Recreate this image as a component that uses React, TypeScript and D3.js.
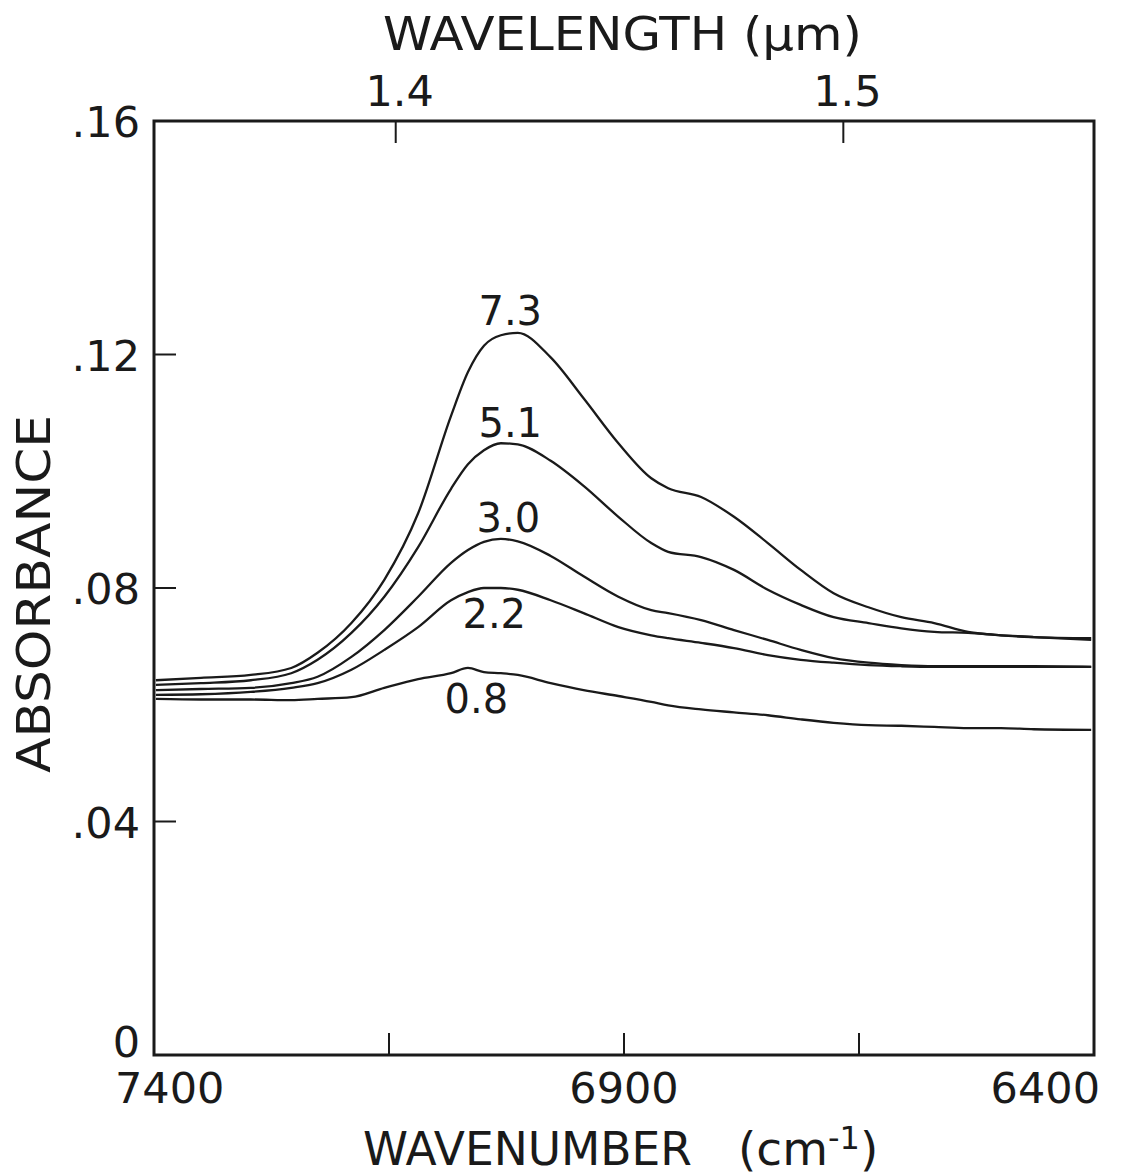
import React from "react";
import * as d3 from "d3";

// wavenumber grid (cm^-1)
const wavenumbers = [7398, 7350, 7297, 7254, 7226, 7190, 7155, 7119, 7084, 7066, 7049, 7031, 7013, 6978, 6943, 6906, 6871, 6853, 6818, 6783, 6747, 6712, 6677, 6640, 6605, 6570, 6534, 6499, 6464, 6403];

const series73 = [0.0642, 0.0646, 0.0651, 0.0663, 0.0689, 0.0740, 0.0814, 0.0928, 0.1095, 0.1170, 0.1215, 0.1233, 0.1237, 0.1195, 0.1125, 0.1048, 0.0988, 0.0971, 0.0956, 0.0922, 0.0877, 0.0831, 0.0791, 0.0767, 0.0750, 0.0740, 0.0725, 0.0719, 0.0716, 0.0714];
const series51 = [0.0634, 0.0637, 0.0642, 0.0654, 0.0677, 0.0723, 0.0785, 0.0870, 0.0970, 0.1012, 0.1036, 0.1048, 0.1046, 0.1018, 0.0975, 0.0922, 0.0877, 0.0862, 0.0853, 0.0831, 0.0797, 0.0771, 0.0750, 0.0740, 0.0731, 0.0725, 0.0723, 0.0719, 0.0716, 0.0711];
const series30 = [0.0625, 0.0627, 0.0629, 0.0637, 0.0648, 0.0682, 0.0728, 0.0785, 0.0843, 0.0865, 0.0879, 0.0884, 0.0880, 0.0855, 0.0820, 0.0785, 0.0762, 0.0757, 0.0745, 0.0728, 0.0711, 0.0694, 0.0680, 0.0672, 0.0668, 0.0666, 0.0666, 0.0666, 0.0666, 0.0665];
const series22 = [0.0617, 0.0618, 0.0622, 0.0629, 0.0637, 0.0660, 0.0694, 0.0733, 0.0779, 0.0793, 0.0800, 0.0800, 0.0797, 0.0779, 0.0757, 0.0733, 0.0719, 0.0714, 0.0706, 0.0697, 0.0685, 0.0677, 0.0672, 0.0668, 0.0666, 0.0665, 0.0665, 0.0665, 0.0665, 0.0665];
const series08 = [0.0610, 0.0609, 0.0609, 0.0608, 0.0610, 0.0613, 0.0629, 0.0644, 0.0654, 0.0663, 0.0656, 0.0654, 0.0651, 0.0637, 0.0625, 0.0615, 0.0605, 0.0599, 0.0592, 0.0587, 0.0582, 0.0575, 0.0569, 0.0565, 0.0564, 0.0562, 0.0560, 0.0560, 0.0558, 0.0557];

const seriesList = [series73, series51, series30, series22, series08];
const curveLabels = ["7.3", "5.1", "3.0", "2.2", "0.8"];
// label anchor: wavenumber and absorbance of label baseline
const labelWavenumbers = [7021, 7021, 7023, 7038, 7057];
const labelAbsorbance = [0.1251, 0.1059, 0.0896, 0.0732, 0.0586];

const yTicks = [0, 0.04, 0.08, 0.12, 0.16];
const yTickLabels = ["0", ".04", ".08", ".12", ".16"];
const xTicks = [7400, 7150, 6900, 6650, 6400];
const xTickLabels = ["7400", "", "6900", "", "6400"];
const wlTicks = [1.4, 1.5];
const wlTickLabels = ["1.4", "1.5"];

const W = 1126;
const H = 1176;
const left = 154, right = 1094, top = 121, bottom = 1055;
const FONT = "'DejaVu Sans', sans-serif";

export default function App() {
  const x = d3.scaleLinear().domain([7400, 6400]).range([left, right]);
  const y = d3.scaleLinear().domain([0, 0.16]).range([bottom, top]);
  const line = d3
    .line<number>()
    .x((_, i) => x(wavenumbers[i]))
    .y((d) => y(d))
    .curve(d3.curveMonotoneX);
  const tickLen = 22;

  return (
    <svg width={W} height={H} style={{ position: "absolute", left: 0, top: 0, background: "#fff" }}>
      <rect x={0} y={0} width={W} height={H} fill="#fff" />
      {/* curves */}
      {seriesList.map((s, i) => (
        <path key={i} d={line(s) || ""} fill="none" stroke="#1a1a1a" strokeWidth={2.3} />
      ))}
      {/* frame */}
      <rect x={left} y={top} width={right - left} height={bottom - top} fill="none" stroke="#1a1a1a" strokeWidth={3} />
      {/* y ticks */}
      {yTicks.map((t, i) => (
        <g key={"y" + i}>
          {t > 0 && t < 0.16 && (
            <line x1={left} x2={left + tickLen} y1={y(t)} y2={y(t)} stroke="#1a1a1a" strokeWidth={2} />
          )}
          <text
            x={140}
            y={t === 0 ? y(t) + 2 : y(t) + 16}
            textAnchor="end"
            fontFamily={FONT}
            fontSize={43}
            fill="#1a1a1a"
          >
            {yTickLabels[i]}
          </text>
        </g>
      ))}
      {/* x ticks bottom */}
      {xTicks.map((t, i) => (
        <g key={"x" + i}>
          {t < 7400 && t > 6400 && (
            <line x1={x(t)} x2={x(t)} y1={bottom} y2={bottom - tickLen} stroke="#1a1a1a" strokeWidth={2} />
          )}
          {xTickLabels[i] && (
            <text
              x={i === 0 ? 115 : i === xTicks.length - 1 ? 1100 : x(t)}
              y={1103}
              textAnchor={i === 0 ? "start" : i === xTicks.length - 1 ? "end" : "middle"}
              fontFamily={FONT}
              fontSize={43}
              fill="#1a1a1a"
            >
              {xTickLabels[i]}
            </text>
          )}
        </g>
      ))}
      {/* top wavelength ticks */}
      {wlTicks.map((wl, i) => (
        <g key={"w" + i}>
          <line x1={x(1e4 / wl)} x2={x(1e4 / wl)} y1={top} y2={top + tickLen} stroke="#1a1a1a" strokeWidth={2} />
          <text x={x(1e4 / wl) + 4} y={106} textAnchor="middle" fontFamily={FONT} fontSize={43} fill="#1a1a1a">
            {wlTickLabels[i]}
          </text>
        </g>
      ))}
      {/* curve labels */}
      {curveLabels.map((l, i) => (
        <text
          key={"l" + i}
          x={x(labelWavenumbers[i])}
          y={y(labelAbsorbance[i])}
          textAnchor="middle"
          fontFamily={FONT}
          fontSize={40}
          fill="#1a1a1a"
        >
          {l}
        </text>
      ))}
      {/* axis titles */}
      <text x={383} y={50} textLength={479} lengthAdjust="spacingAndGlyphs" fontFamily={FONT} fontSize={47} fill="#1a1a1a">
        WAVELENGTH (μm)
      </text>
      <text x={363} y={1165} textLength={329} lengthAdjust="spacingAndGlyphs" fontFamily={FONT} fontSize={47} fill="#1a1a1a">
        WAVENUMBER
      </text>
      <text x={738} y={1165} fontFamily={FONT} fontSize={47} fill="#1a1a1a">
        (cm
        <tspan dy={-16} fontSize={32}>-1</tspan>
        <tspan dy={16}>)</tspan>
      </text>
      <text
        transform="translate(50,594) rotate(-90)"
        textAnchor="middle"
        textLength={358}
        lengthAdjust="spacingAndGlyphs"
        fontFamily={FONT}
        fontSize={47}
        fill="#1a1a1a"
      >
        ABSORBANCE
      </text>
    </svg>
  );
}
